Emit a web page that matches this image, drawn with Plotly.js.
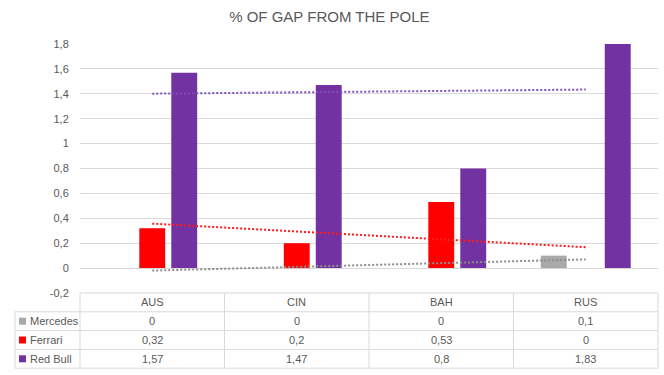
<!DOCTYPE html>
<html><head><meta charset="utf-8">
<script src="https://cdn.plot.ly/plotly-3.0.1.min.js"></script>
<style>html,body{margin:0;padding:0;background:#fff}#chart{width:664px;height:375px}</style>
</head><body><div id="chart"></div>
<script>
// ---- data ----
const races = ['AUS', 'CIN', 'BAH', 'RUS'];
const mercedes = [0, 0, 0, 0.1];
const ferrari = [0.32, 0.2, 0.53, 0];
const redBull = [1.57, 1.47, 0.8, 1.83];
const seriesNames = ['Mercedes', 'Ferrari', 'Red Bull'];
const yTickVals = [-0.2, 0, 0.2, 0.4, 0.6, 0.8, 1, 1.2, 1.4, 1.6, 1.8];
const yTickText = ['-0,2', '0', '0,2', '0,4', '0,6', '0,8', '1', '1,2', '1,4', '1,6', '1,8'];

// ---- styles ----
const barColors = ['#a9a9a9', '#ff0000', '#7232a2'];
const trendColors = ['#8c8c8c', '#ff1a1a', '#7e50b8'];
const gridColor = '#d9d9d9';
const textColor = '#595959';
const FONT = 'Liberation Sans, Arial, sans-serif';

const allSeries = [mercedes, ferrari, redBull];

function linearTrend(ys) {
  const n = ys.length;
  const xs = ys.map((_, i) => i + 1);
  const mx = xs.reduce((a, b) => a + b, 0) / n;
  const my = ys.reduce((a, b) => a + b, 0) / n;
  let sxy = 0, sxx = 0;
  for (let i = 0; i < n; i++) { sxy += (xs[i] - mx) * (ys[i] - my); sxx += (xs[i] - mx) ** 2; }
  const slope = sxy / sxx;
  return xs.map(x => my + slope * (x - mx));
}

const fmt = v => String(v).replace('.', ',');

const traces = [];
allSeries.forEach((ys, k) => {
  traces.push({
    type: 'bar', x: races, y: ys, name: seriesNames[k],
    marker: { color: barColors[k], line: { width: 0 } },
    hoverinfo: 'skip'
  });
});
allSeries.forEach((ys, k) => {
  traces.push({
    type: 'scatter', mode: 'lines', x: races, y: linearTrend(ys),
    line: { color: trendColors[k], width: 2, dash: '2px,2px' },
    hoverinfo: 'skip', showlegend: false
  });
});

// ---- table (data table below plot) ----
const L = 80, R = 658, T = 44, B = 293;
const px = p => (p - L) / (R - L);
const py = p => (B - p) / (B - T);
const rowH = 18.8;
const rowLines = [0, 1, 2, 3, 4].map(i => B + i * rowH);
const shapes = [];
const lineStyle = { color: gridColor, width: 1 };
rowLines.forEach((yy, i) => {
  shapes.push({ type: 'line', xref: 'paper', yref: 'paper',
    x0: px(i === 0 ? L : 15), x1: px(R), y0: py(yy), y1: py(yy), line: lineStyle });
});
// vertical lines: label column left edge, plot left edge, category boundaries, right edge
shapes.push({ type: 'line', xref: 'paper', yref: 'paper', x0: px(15), x1: px(15),
  y0: py(rowLines[1]), y1: py(rowLines[4]), line: lineStyle });
for (let c = 0; c <= races.length; c++) {
  const xx = L + c * (R - L) / races.length;
  shapes.push({ type: 'line', xref: 'paper', yref: 'paper', x0: px(xx), x1: px(xx),
    y0: py(rowLines[0]), y1: py(rowLines[4]), line: lineStyle });
}

const annotations = [];
const cellFont = { family: FONT, size: 11, color: textColor };
races.forEach(r => {
  annotations.push({ xref: 'x', yref: 'paper', x: r, y: py(B + rowH / 2),
    text: r, showarrow: false, font: cellFont, yanchor: 'middle' });
});
allSeries.forEach((ys, k) => {
  const yc = py(B + rowH * (k + 1) + rowH / 2);
  annotations.push({ xref: 'paper', yref: 'paper', x: px(28), y: yc, xanchor: 'left',
    text: seriesNames[k], showarrow: false, font: cellFont, yanchor: 'middle' });
  shapes.push({ type: 'rect', xref: 'paper', yref: 'paper', x0: px(19), x1: px(26),
    y0: yc - 3.5 / (B - T), y1: yc + 3.5 / (B - T), fillcolor: barColors[k], line: { width: 0 } });
  ys.forEach((v, i) => {
    annotations.push({ xref: 'x', yref: 'paper', x: races[i], y: yc,
      text: fmt(v), showarrow: false, font: cellFont, yanchor: 'middle' });
  });
});

const layout = {
  width: 664, height: 375,
  margin: { l: L, r: 664 - R, t: T, b: 375 - B, pad: 0 },
  paper_bgcolor: '#fff', plot_bgcolor: '#fff',
  showlegend: false,
  barmode: 'group', bargap: 0.336, bargroupgap: 0.19,
  title: { text: '% OF GAP FROM THE POLE', x: 0.496, xanchor: 'center', y: 0.955, yanchor: 'middle',
    font: { family: FONT, size: 15, color: textColor } },
  xaxis: { type: 'category', range: [-0.5, 3.5], showticklabels: false, showgrid: false,
    zeroline: false, showline: false, ticks: '', fixedrange: true },
  yaxis: { range: [-0.2, 1.8], tickvals: yTickVals, ticktext: yTickText,
    showgrid: true, gridcolor: gridColor, gridwidth: 1, zeroline: false, showline: false,
    ticks: 'outside', ticklen: 8, tickcolor: 'rgba(0,0,0,0)',
    tickfont: { family: FONT, size: 11, color: textColor }, fixedrange: true },
  shapes: shapes,
  annotations: annotations
};

Plotly.newPlot('chart', traces, layout, { displayModeBar: false, staticPlot: true });
</script>
</body></html>
